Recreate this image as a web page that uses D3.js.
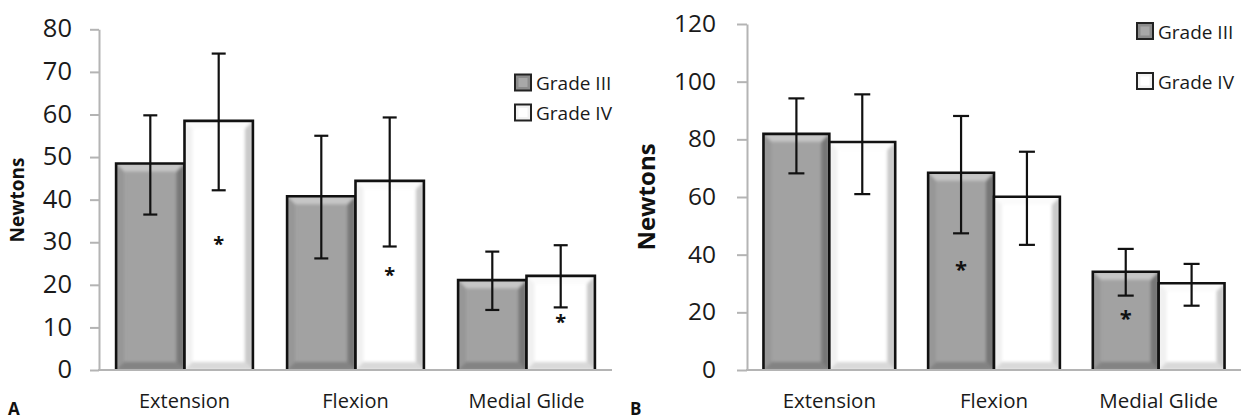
<!DOCTYPE html>
<html>
<head>
<meta charset="utf-8">
<script src="https://cdn.jsdelivr.net/npm/d3@7"></script>
<style>
  body { margin: 0; background: #fff; }
  svg { display: block; font-family: "Open Sans", sans-serif; }
</style>
</head>
<body>
<svg width="1246" height="420"></svg>
<script>
// values
const categories = ['Extension', 'Flexion', 'Medial Glide']
const seriesNames = ['Grade III', 'Grade IV']

// panel A
const aTicks = [0, 10, 20, 30, 40, 50, 60, 70, 80]
const aGrade3 = [48.5, 40.8, 21.1]
const aGrade3Low = [36.5, 26.2, 14.1]
const aGrade3High = [59.8, 55.0, 27.8]
const aGrade4 = [58.5, 44.4, 22.1]
const aGrade4Low = [42.2, 29.0, 14.7]
const aGrade4High = [74.3, 59.3, 29.3]
const aStar3 = [null, null, null]
const aStar4 = [30, 22.7, 11.7]

// panel B
const bTicks = [0, 20, 40, 60, 80, 100, 120]
const bGrade3 = [81.9, 68.4, 34.1]
const bGrade3Low = [68.2, 47.4, 25.8]
const bGrade3High = [94.2, 88.1, 42.0]
const bGrade4 = [79.1, 60.1, 30.1]
const bGrade4Low = [61.0, 43.4, 22.3]
const bGrade4High = [95.6, 75.7, 36.8]
const bStar3 = [null, 35.4, 18.5]
const bStar4 = [null, null, null]

const svg = d3.select('svg')

// blur used to soften the bevel edges
const defs = svg.append('defs')
defs.append('filter').attr('id', 'soft')
  .attr('x', '-10%').attr('y', '-10%').attr('width', '120%').attr('height', '120%')
  .append('feGaussianBlur').attr('stdDeviation', 1.6)

const looks = [
  { base: '#a2a2a2', top: '#c6c6c6', left: '#979797', right: '#777777', bottom: '#838383' },
  { base: '#ffffff', top: '#fbfbfb', left: '#f1f1f1', right: '#cacaca', bottom: '#d9d9d9' }
]

let clipId = 0
// draws one bevelled bar (Excel style)
const bevelBar = function (g, x, y, w, h, look, b) {
  const id = 'clip' + (clipId++)
  defs.append('clipPath').attr('id', id)
    .append('rect').attr('x', x).attr('y', y).attr('width', w).attr('height', h)
  const bar = g.append('g').attr('clip-path', `url(#${id})`)
  bar.append('rect').attr('x', x).attr('y', y).attr('width', w).attr('height', h).attr('fill', look.base)
  const soft = bar.append('g').attr('filter', 'url(#soft)')
  const pts = {
    top: [[x, y], [x + w, y], [x + w - b, y + b], [x + b, y + b]],
    left: [[x, y], [x + b, y + b], [x + b, y + h - b], [x, y + h]],
    right: [[x + w, y], [x + w, y + h], [x + w - b, y + h - b], [x + w - b, y + b]],
    bottom: [[x, y + h], [x + b, y + h - b], [x + w - b, y + h - b], [x + w, y + h]]
  }
  Object.keys(pts).forEach(k => {
    soft.append('polygon').attr('points', pts[k].map(p => p.join(',')).join(' ')).attr('fill', look[k])
  })
  // outline on three sides, no bottom edge
  g.append('path')
    .attr('d', `M${x},${y + h} V${y} H${x + w} V${y + h}`)
    .attr('fill', 'none').attr('stroke', '#111').attr('stroke-width', 2.6)
}

const drawPanel = function (p) {
  const g = svg.append('g')
  const y = d3.scaleLinear().domain([0, p.max]).range([p.y0, p.y1])
  const x0 = d3.scaleBand().domain(categories).range([p.x0, p.x1]).paddingInner(0.2).paddingOuter(0.1)
  const x1 = d3.scaleBand().domain(seriesNames).range([0, x0.bandwidth()])

  // y axis
  const yAxis = g.append('g')
    .attr('transform', `translate(${p.x0},0)`)
    .call(d3.axisLeft(y).tickValues(p.ticks).tickSize(p.tickSize).tickPadding(p.tickPad).tickSizeOuter(0))
  yAxis.select('.domain').attr('stroke', '#b4b4b4').attr('stroke-width', 2)
  yAxis.selectAll('.tick line').attr('stroke', '#b4b4b4').attr('stroke-width', 2)
  yAxis.selectAll('.tick text')
    .attr('fill', '#1a1a1a').style('font-size', p.tickFont + 'px').attr('dy', '0.3em')
  yAxis.attr('font-family', null)

  // bars
  const series = [
    { mean: p.g3, low: p.g3Low, high: p.g3High, star: p.star3 },
    { mean: p.g4, low: p.g4Low, high: p.g4High, star: p.star4 }
  ]
  const barsG = g.append('g')
  series.forEach((s, si) => {
    categories.forEach((c, ci) => {
      const bx = x0(c) + x1(seriesNames[si])
      const by = y(s.mean[ci])
      bevelBar(barsG, bx, by, x1.bandwidth(), y(0) - by, looks[si], p.bevel)
    })
  })

  // baseline drawn over the bar bottoms
  g.append('line')
    .attr('x1', p.x0 - 1).attr('x2', p.x1).attr('y1', y(0)).attr('y2', y(0))
    .attr('stroke', '#b4b4b4').attr('stroke-width', 2)

  // error bars and asterisks
  series.forEach((s, si) => {
    categories.forEach((c, ci) => {
      const cx = x0(c) + x1(seriesNames[si]) + x1.bandwidth() / 2
      const eg = g.append('g').attr('stroke', '#111').attr('stroke-width', 2.2)
      eg.append('line').attr('x1', cx).attr('x2', cx).attr('y1', y(s.low[ci])).attr('y2', y(s.high[ci]))
      ;[s.low[ci], s.high[ci]].forEach(v => {
        eg.append('line').attr('x1', cx - p.cap).attr('x2', cx + p.cap).attr('y1', y(v)).attr('y2', y(v))
      })
      if (s.star[ci] != null) {
        g.append('text')
          .attr('x', cx).attr('y', y(s.star[ci]) + p.starFont * 0.42)
          .attr('text-anchor', 'middle')
          .style('font-size', p.starFont + 'px').style('font-weight', 'bold')
          .attr('fill', '#111')
          .text('*')
      }
    })
  })

  // category labels
  g.selectAll('text.cat')
    .data(categories)
    .enter()
    .append('text')
    .attr('class', 'cat')
    .attr('x', d => x0(d) + x0.bandwidth() / 2)
    .attr('y', 408)
    .attr('text-anchor', 'middle')
    .style('font-size', p.catFont + 'px')
    .attr('fill', '#1a1a1a')
    .text(d => d)

  // y title
  g.append('text')
    .attr('transform', `translate(${p.titleX},${p.titleY}) rotate(-90)`)
    .attr('text-anchor', 'middle')
    .style('font-size', p.titleFont + 'px').style('font-weight', 'bold')
    .attr('fill', '#111')
    .text('Newtons')

  // panel letter
  g.append('text')
    .attr('x', p.letterX).attr('y', 415)
    .style('font-size', '17px').style('font-weight', 'bold')
    .attr('fill', '#111')
    .text(p.letter)

  // legend
  const lg = g.append('g').attr('transform', `translate(${p.legX},${p.legY})`)
  seriesNames.forEach((name, i) => {
    const row = lg.append('g').attr('transform', `translate(0,${i * p.legGap})`)
    row.append('rect').attr('x', 0).attr('y', 0).attr('width', 16).attr('height', 16)
      .attr('fill', i === 0 ? '#8c8c8c' : '#f2f2f2').attr('stroke', '#222').attr('stroke-width', 2)
    row.append('rect').attr('x', 3.5).attr('y', 3.5).attr('width', 9).attr('height', 9)
      .attr('fill', i === 0 ? '#a8a8a8' : '#ffffff')
    row.append('text').attr('x', 21).attr('y', 15.5)
      .style('font-size', p.legFont + 'px').attr('fill', '#1a1a1a')
      .text(name)
  })
}

drawPanel({
  letter: 'A', letterX: 8,
  x0: 99, x1: 612, y0: 370, y1: 29.3, max: 80, ticks: aTicks,
  tickSize: 9, tickPad: 18, tickFont: 25.5,
  g3: aGrade3, g3Low: aGrade3Low, g3High: aGrade3High, star3: aStar3,
  g4: aGrade4, g4Low: aGrade4Low, g4High: aGrade4High, star4: aStar4,
  cap: 7, bevel: 8, starFont: 20, catFont: 20,
  titleX: 24, titleY: 200, titleFont: 19,
  legX: 515, legY: 74.5, legGap: 30, legFont: 19
})

drawPanel({
  letter: 'B', letterX: 630,
  x0: 747, x1: 1241, y0: 370, y1: 24, max: 120, ticks: bTicks,
  tickSize: 10, tickPad: 21, tickFont: 24.5,
  g3: bGrade3, g3Low: bGrade3Low, g3High: bGrade3High, star3: bStar3,
  g4: bGrade4, g4Low: bGrade4Low, g4High: bGrade4High, star4: bStar4,
  cap: 8, bevel: 8, starFont: 22, catFont: 20.5,
  titleX: 655, titleY: 197, titleFont: 24,
  legX: 1137, legY: 23, legGap: 50, legFont: 19
})
</script>
</body>
</html>
